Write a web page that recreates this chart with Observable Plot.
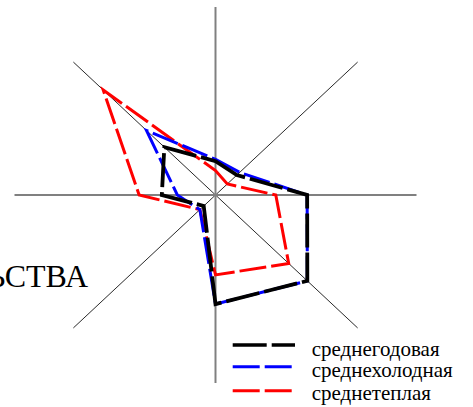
<!DOCTYPE html>
<html><head><meta charset="utf-8">
<script src="https://cdn.jsdelivr.net/npm/d3@7"></script>
<script src="https://cdn.jsdelivr.net/npm/@observablehq/plot@0.6"></script>
<style>
body{margin:0;background:#fff;}
#chart{position:relative;width:473px;height:407px;overflow:hidden;background:#fff;}
#chart svg{display:block;}
#chart svg text.serif{font-family:"Liberation Serif","Times New Roman","DejaVu Serif",serif !important;}
</style>
</head><body><div id="chart"></div>
<script>
// Rhumbs clockwise from north
const directions = ["С","СВ","В","ЮВ","Ю","ЮЗ","З","СЗ"];
const seriesNames = ["среднегодовая","среднехолодная","среднетеплая"];
// relative values (fraction of axis length)
const annual = [0.18, 0.15, 0.456, 0.646, 0.58, 0.083, 0.267, 0.36];
const cold   = [0.19, 0.17, 0.456, 0.646, 0.58, 0.11, 0.19, 0.485];
const warm   = [0.13, 0.083, 0.30, 0.515, 0.425, 0.11, 0.38, 0.79];
const sideLabel = "ЬСТВА";

const W = 473, H = 407;
const ang = i => i * Math.PI / 4;
const toRows = (vals, name) => vals.map((r, i) => ({series: name, dir: directions[i], x: r * Math.sin(ang(i)), y: r * Math.cos(ang(i))}));
const rowsAnnual = toRows(annual, seriesNames[0]);
const rowsCold = toRows(cold, seriesNames[1]);
const rowsWarm = toRows(warm, seriesNames[2]);
const spokes = directions.map((d, i) => ({dir: d, main: i % 2 === 0, x: Math.sin(ang(i)), y: Math.cos(ang(i))}));

const styles = [
  {stroke: "#000000", strokeWidth: 3.8, dash: "34,5"},
  {stroke: "#0000ff", strokeWidth: 3, dash: "27,5"},
  {stroke: "#ff0000", strokeWidth: 3, dash: "27,5"}
];

const line = (rows, s) => Plot.line(rows, {x: "x", y: "y", curve: "linear-closed", stroke: s.stroke, strokeWidth: s.strokeWidth, strokeDasharray: s.dash, strokeLinecap: "butt", strokeLinejoin: "miter", strokeMiterlimit: 10});

const plot = Plot.plot({
  width: W, height: H,
  marginLeft: 14, marginRight: 57, marginTop: 6.5, marginBottom: 24.5,
  x: {domain: [-1, 1], axis: null},
  y: {domain: [-1, 1], axis: null},
  style: {background: "#fff"},
  marks: [
    Plot.link(spokes.filter(d => !d.main), {x1: 0, y1: 0, x2: "x", y2: "y", stroke: "#111", strokeWidth: 0.9}),
    Plot.link(spokes.filter(d => d.main), {x1: 0, y1: 0, x2: "x", y2: "y", stroke: "#808080", strokeWidth: 2}),
    line(rowsWarm, styles[2]),
    line(rowsCold, styles[1]),
    line(rowsAnnual, styles[0])
  ]
});
document.getElementById("chart").appendChild(plot);

const svg = d3.select(plot);
svg.append("text").attr("class", "serif").attr("x", 88).attr("y", 287).attr("text-anchor", "end")
  .style("font-size", "32px").attr("fill", "#000")
  .text(sideLabel);

const lg = svg.append("g").attr("text-anchor", "start");
const legendLines = [{y: 345, x2: 295}, {y: 366.7, x2: 291.7}, {y: 390.7, x2: 291.7}];
const legendText = [355.7, 377.3, 400];
seriesNames.forEach((name, i) => {
  lg.append("line").attr("x1", 232.7).attr("x2", legendLines[i].x2).attr("y1", legendLines[i].y).attr("y2", legendLines[i].y)
    .attr("stroke", styles[i].stroke).attr("stroke-width", i === 0 ? 3.4 : 3).attr("stroke-dasharray", styles[i].dash);
  lg.append("text").attr("class", "serif").attr("x", 311.7).attr("y", legendText[i]).attr("text-anchor", "start")
    .style("font-size", "21px").attr("fill", "#000")
    .text(name);
});
</script></body></html>
